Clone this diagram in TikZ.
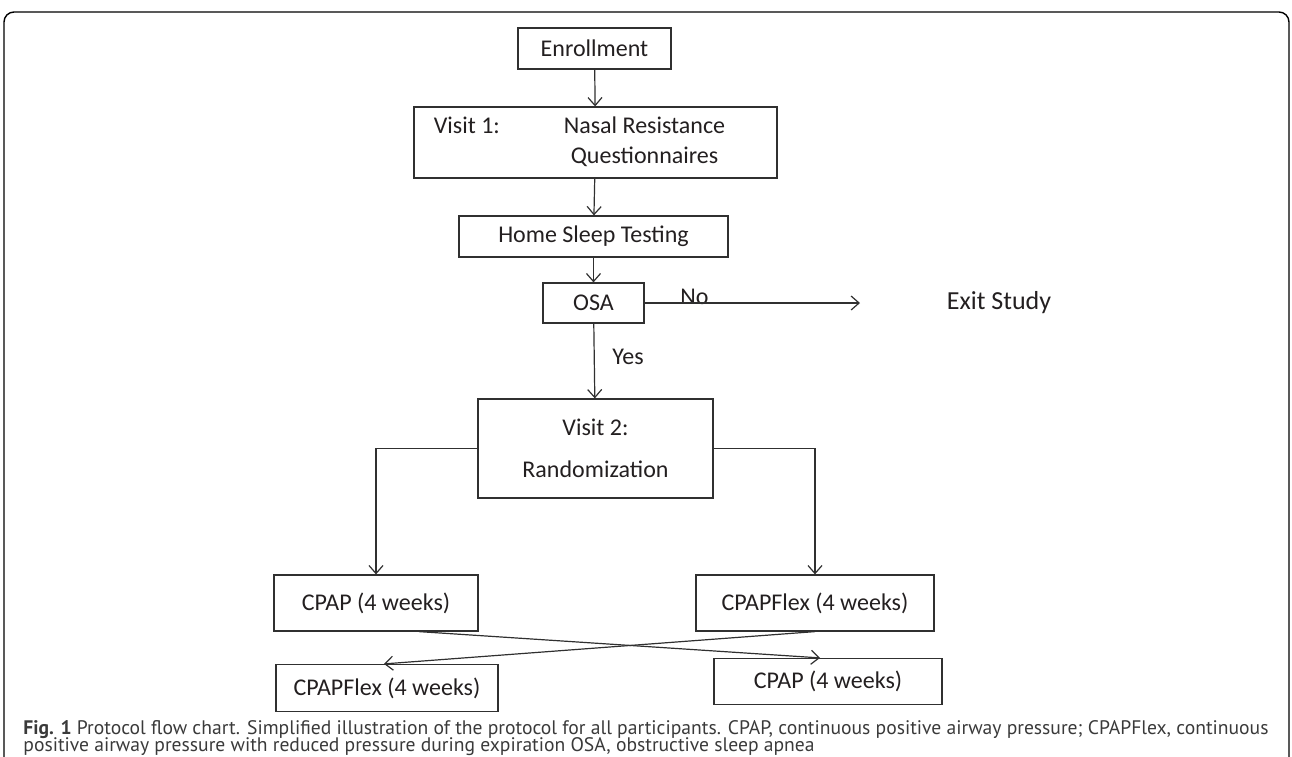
\documentclass[tikz,border=0pt]{standalone}
\usepackage{fontspec}
\setmainfont{Carlito}
\newfontfamily\capfont{PT Sans}
\usetikzlibrary{arrows.meta}

\definecolor{linegray}{HTML}{303030}
\definecolor{textgray}{HTML}{231F20}
\definecolor{capgray}{HTML}{3A3A3A}

\begin{document}
\begin{tikzpicture}[x=0.5pt,y=-0.5pt]

\tikzset{
    box/.style={draw=linegray,line width=0.6pt,inner sep=0pt,text=textgray,
        font=\fontsize{12}{15}\selectfont},
    flowlabel/.style={text=textgray,font=\fontsize{12}{15}\selectfont},
    flowline/.style={draw=linegray,line width=0.6pt},
    captext/.style={anchor=base west,inner sep=0pt,text=capgray,
        font=\capfont\fontsize{9.8}{9}\selectfont},
    >={Straight Barb[length=4pt,width=7pt]},
}

\clip (0,0) rectangle (1292,756);
\useasboundingbox (0,0) rectangle (1292,756);

%% Frame
\draw[line width=0.7pt,rounded corners=5pt] (4,800) rectangle (1289,12);

%% Screening
\node[box,minimum width=76.5pt,minimum height=20.5pt] (enroll) at (594.5,48.5) {Enrollment};
\node[box,minimum width=181.5pt,minimum height=35.5pt] (visit1) at (595.5,142.5)
    {\begin{tabular}{@{}l@{\hspace{32pt}}c@{}}Visit 1: & Nasal Resistance\\ & Questionnaires\end{tabular}\hspace*{16pt}};
\node[box,minimum width=134.5pt,minimum height=20.5pt] (hst) at (593.5,236.5) {Home Sleep Testing};
\node[box,minimum width=50.5pt,minimum height=20pt] (osa) at (593.5,303) {OSA};

\node[flowlabel,anchor=base] (no) at (694.5,304) {No};
\node[flowlabel,font=\fontsize{13}{15}\selectfont] (exit) at (999,303) {Exit Study};
\coordinate (exitarrow) at (860,303);
\node[flowlabel] (yes) at (628,357) {Yes};

%% Randomization
\node[box,minimum width=117.5pt,minimum height=49.5pt,align=center,
    font=\fontsize{12}{21}\selectfont] (visit2) at (595.5,448.5) {Visit 2:\\Randomization};

%% First period
\node[box,minimum width=102pt,minimum height=28pt] (cpapA) at (376,603) {CPAP (4 weeks)};
\node[box,minimum width=119pt,minimum height=28pt] (flexA) at (815,603) {CPAPFlex (4 weeks)};

%% Second period
\node[box,minimum width=111pt,minimum height=23.5pt] (flexB) at (387,688) {CPAPFlex (4 weeks)};
\node[box,minimum width=114pt,minimum height=23pt] (cpapB) at (828,681.5) {CPAP (4 weeks)};

%% Connectors
\draw[flowline,->] (enroll) -- (visit1);
\draw[flowline,->] (visit1) -- (hst);
\draw[flowline,->] (hst) -- (osa);
\draw[flowline,->] (osa) -- (visit2);
\draw[flowline,->] (osa.east) -- (exitarrow);
\draw[flowline,->] (visit2.west) -| (cpapA.north);
\draw[flowline,->] (visit2.east) -| (flexA.north);
\draw[flowline,->] ([xshift=21.5pt]cpapA.south) -- ([xshift=-4pt]cpapB.north);
\draw[flowline,->] (flexA.south) -- ([xshift=-1.5pt]flexB.north);

%% Caption
\node[captext] (caption1) at (23,734)
    {\textbf{Fig. 1} Protocol flow chart. Simplified illustration of the protocol for all participants. CPAP, continuous positive airway pressure; CPAPFlex, continuous};
\node[captext] (caption2) at (23,751)
    {positive airway pressure with reduced pressure during expiration OSA, obstructive sleep apnea};

\end{tikzpicture}
\end{document}
